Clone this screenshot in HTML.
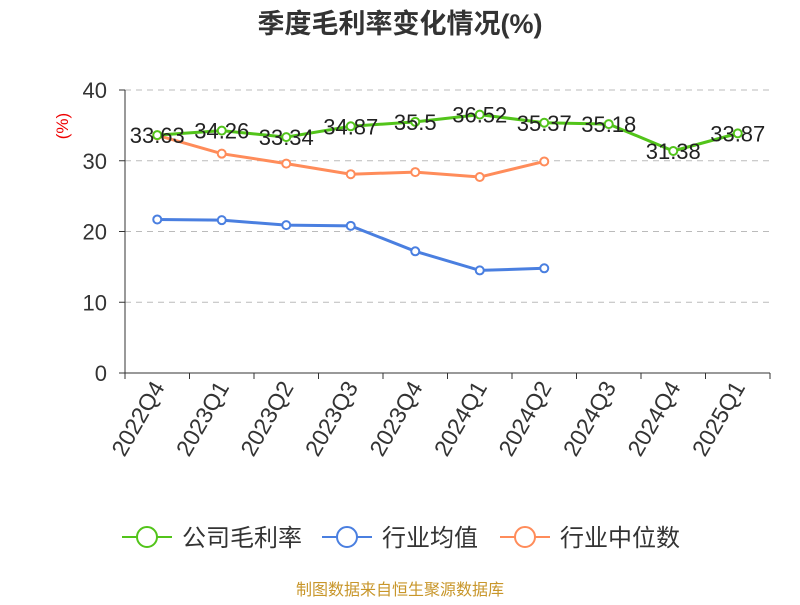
<!DOCTYPE html>
<html><head><meta charset="utf-8"><style>
body{margin:0;background:#fff;font-family:"Liberation Sans","Noto Sans CJK SC",sans-serif}
</style></head><body>
<svg width="800" height="600" xmlns="http://www.w3.org/2000/svg" font-family="Liberation Sans, Noto Sans CJK SC, sans-serif">
<text x="400" y="33" text-anchor="middle" font-size="27" font-weight="bold" fill="#333">季度毛利率变化情况(%)</text>
<text x="68" y="126" text-anchor="middle" font-size="17" fill="#e00" transform="rotate(-90 68 126)">(%)</text>
<g id="grid"></g><g id="axes"></g><g id="series"></g>
<g>
<g><line x1="122" y1="537" x2="172" y2="537" stroke="#52c41a" stroke-width="2"/><circle cx="147" cy="537" r="10" fill="#fff" stroke="#52c41a" stroke-width="2"/><text x="182" y="546" font-size="24" fill="#333">公司毛利率</text></g>
<g><line x1="322" y1="537" x2="372" y2="537" stroke="#4a7fe0" stroke-width="2"/><circle cx="347" cy="537" r="10" fill="#fff" stroke="#4a7fe0" stroke-width="2"/><text x="382" y="546" font-size="24" fill="#333">行业均值</text></g>
<g><line x1="500" y1="537" x2="550" y2="537" stroke="#ff8c5a" stroke-width="2"/><circle cx="525" cy="537" r="10" fill="#fff" stroke="#ff8c5a" stroke-width="2"/><text x="560" y="546" font-size="24" fill="#333">行业中位数</text></g>
</g>
<text x="400" y="595" text-anchor="middle" font-size="16" fill="#c8962a">制图数据来自恒生聚源数据库</text>
</svg>
<script>
const categories=["2022Q4","2023Q1","2023Q2","2023Q3","2023Q4","2024Q1","2024Q2","2024Q3","2024Q4","2025Q1"];
const companyMargin=[33.63,34.26,33.34,34.87,35.5,36.52,35.37,35.18,31.38,33.87];
const industryAvg=[21.7,21.6,20.9,20.8,17.2,14.5,14.8];
const industryMedian=[33.6,31.0,29.6,28.1,28.4,27.7,29.9];
const yTicks=[0,10,20,30,40];
const NS="http://www.w3.org/2000/svg";
const L=125,R=770,T=90,B=373,yMax=40;
const bw=(R-L)/categories.length;
const xs=i=>L+bw*(i+0.5);
const ys=v=>B-(v/yMax)*(B-T);
function mk(t,a,p){const e=document.createElementNS(NS,t);for(const k in a)e.setAttribute(k,a[k]);p.appendChild(e);return e;}
const grid=document.getElementById('grid'),axes=document.getElementById('axes'),ser=document.getElementById('series');
yTicks.forEach(v=>{
 if(v>0){const g=mk('line',{x1:L,x2:R,y1:ys(v),y2:ys(v),stroke:'#bbb','stroke-dasharray':'6,5'},grid);
 
 }
 const tk=mk('line',{x1:L-6,x2:L,y1:ys(v),y2:ys(v),stroke:'#333'},axes);
 
 
 const t=mk('text',{x:L-18,y:ys(v)+8,'text-anchor':'end','font-size':22,fill:'#333'},axes);t.textContent=v;
 
 
});
const ya=mk('line',{x1:L,x2:L,y1:T,y2:B,stroke:'#333'},axes);


const xa=mk('line',{x1:L,x2:R,y1:B,y2:B,stroke:'#333'},axes);


for(let i=0;i<=categories.length;i++){const tk=mk('line',{x1:L+bw*i,x2:L+bw*i,y1:B,y2:B+6,stroke:'#333'},axes);
 
 }
categories.forEach((c,i)=>{const x=xs(i)+8,y=B+14;
 const t=mk('text',{x:x,y:y,'text-anchor':'end','font-size':23,fill:'#333',transform:`rotate(-60 ${x} ${y})`},axes);t.textContent=c;
 
 });
function series(vals,color,name,labels){
 const g=mk('g',{},ser);
 
 
 const pl=mk('polyline',{points:vals.map((v,i)=>xs(i)+','+ys(v)).join(' '),fill:'none',stroke:color,'stroke-width':3},g);
 
 
 vals.forEach((v,i)=>{const c=mk('circle',{cx:xs(i),cy:ys(v),r:4,fill:'#fff',stroke:color,'stroke-width':2},g);
  
  
  if(labels){const t=mk('text',{x:xs(i),y:ys(v)+8,'text-anchor':'middle','font-size':22,fill:'#222'},g);t.textContent=v;
  
  }});
}
series(industryAvg,'#4a7fe0','industry-avg-series',false);
series(industryMedian,'#ff8c5a','industry-median-series',false);
series(companyMargin,'#52c41a','company-margin-series',true);
</script>
</body></html>
